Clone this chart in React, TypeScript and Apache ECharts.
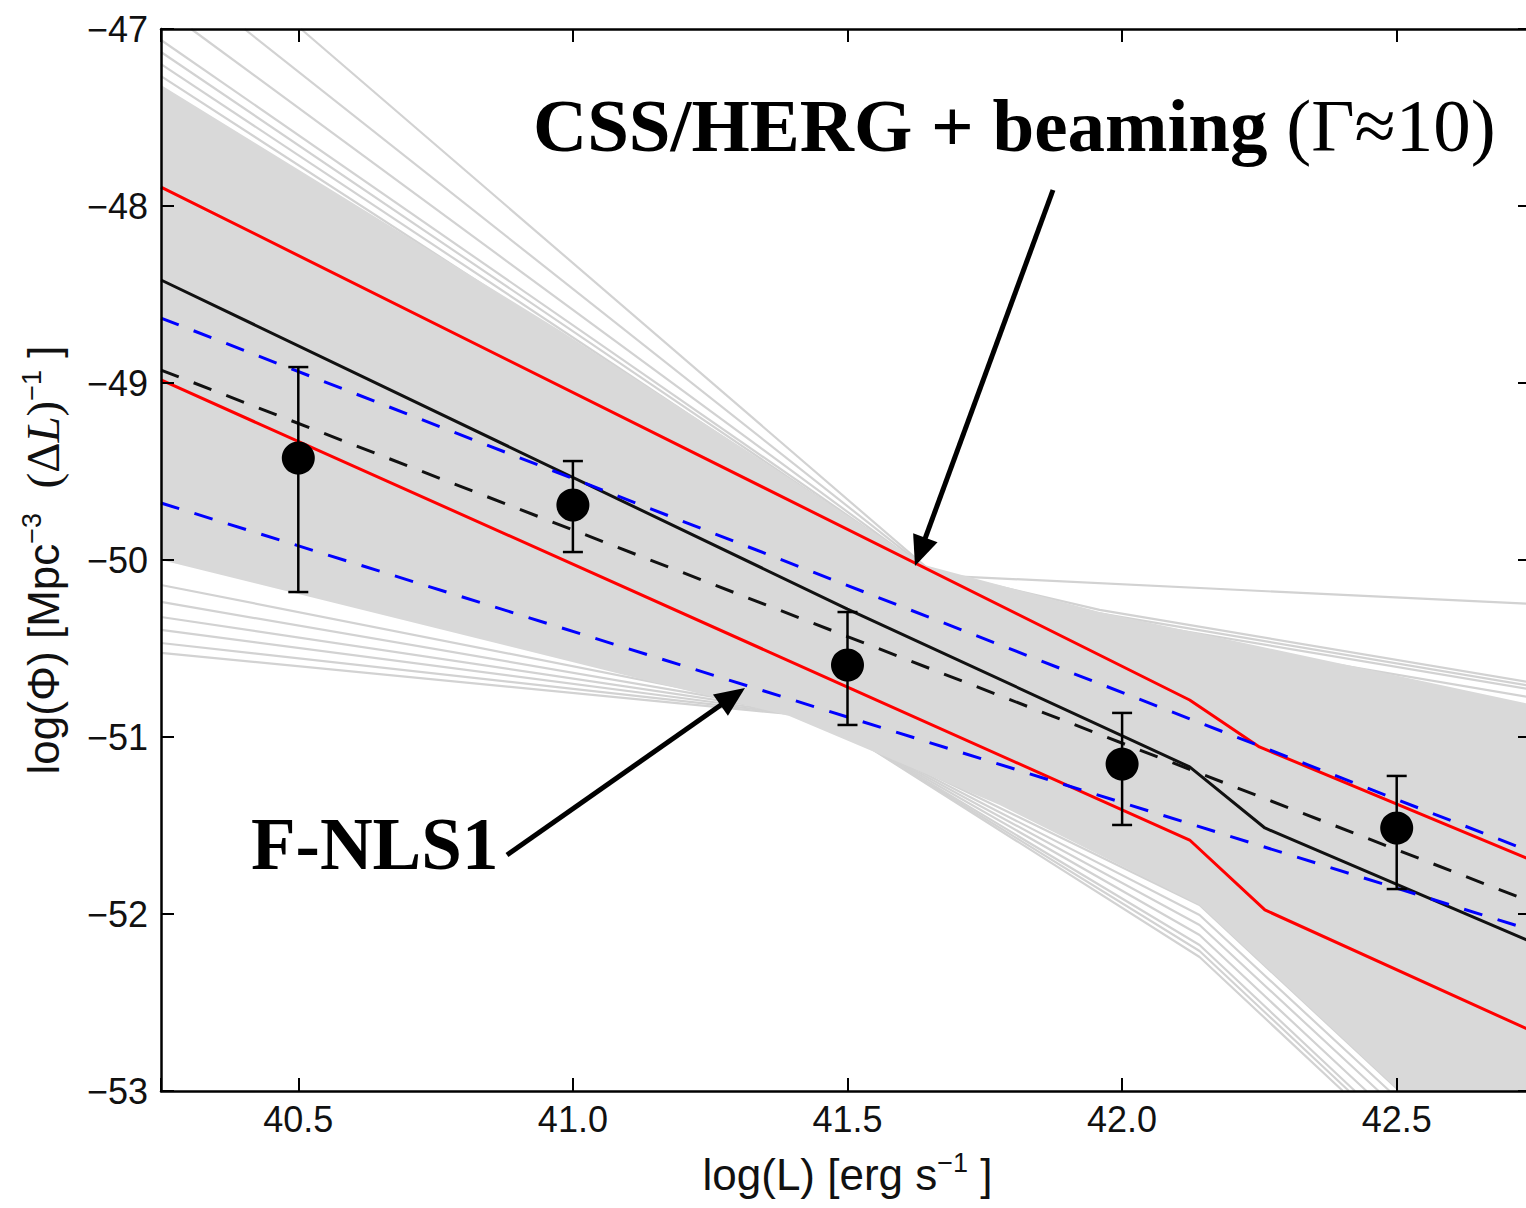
import React, { useEffect, useRef } from 'react';
import * as echarts from 'echarts';

// ---- axis ranges ----
const X_MIN = 40.25;
const X_MAX = 42.75;
const Y_MIN = -53;
const Y_MAX = -47;

// ---- data points with error bars ----
const pointsX = [40.5, 41.0, 41.5, 42.0, 42.5];
const pointsY = [-49.424, -49.689, -50.593, -51.153, -51.514];
const errLow = [-50.181, -49.955, -50.932, -51.497, -51.859];
const errHigh = [-48.91, -49.441, -50.294, -50.864, -51.22];

// ---- model curves (log L, log Phi) ----
const redUpper = [[40.25, -47.893], [42.123, -50.791], [42.25, -51.056], [42.75, -51.701]];
const redLower = [[40.25, -48.983], [41.5, -50.718], [42.123, -51.582], [42.26, -51.977], [42.75, -52.667]];
const blackSolid = [[40.25, -48.418], [41.5, -50.277], [42.123, -51.169], [42.26, -51.514], [42.75, -52.164]];
const blackDashed = [[40.25, -48.927], [42.75, -51.938]];
const blueUpper = [[40.25, -48.633], [42.75, -51.655]];
const blueLower = [[40.25, -49.678], [42.75, -52.096]];

// ---- grey spaghetti of posterior draws ----
const denseBand = [
  [40.25, -47.316], [40.975, -48.701], [41.64, -50.028], [41.959, -50.294], [42.75, -50.819],
  [42.75, -53], [42.505, -53], [42.141, -51.949], [41.777, -51.384], [41.394, -50.881], [40.25, -50.0],
];
// steep draws: the part above-left of the band and the part below-right of it
const steepUpper = [
  [[40.505, -47], [41.649, -50.056]],
  [[40.402, -47], [41.649, -50.062]],
  [[40.305, -47], [41.649, -50.068]],
  [[40.25, -47.062], [41.649, -50.068]],
  [[40.25, -47.13], [41.649, -50.073]],
  [[40.25, -47.198], [41.649, -50.079]],
  [[40.25, -47.266], [41.649, -50.079]],
];
const steepLower = [
  [[41.504, -50.989], [42.141, -52.243], [42.402, -53]],
  [[41.504, -50.989], [42.141, -52.209], [42.413, -53]],
  [[41.504, -50.989], [42.141, -52.175], [42.424, -53]],
  [[41.504, -50.989], [42.141, -52.119], [42.445, -53]],
  [[41.504, -50.989], [42.141, -52.062], [42.467, -53]],
  [[41.504, -50.989], [42.141, -52.006], [42.487, -53]],
  [[41.504, -50.989], [42.141, -51.949], [42.505, -53]],
];
const flatRightLines = [
  [[40.25, -49.915], [41.649, -50.085], [42.75, -50.249]],
  [[41.64, -50.05], [41.959, -50.282], [42.75, -50.695]],
  [[41.64, -50.05], [41.959, -50.302], [42.75, -50.714]],
  [[41.64, -50.05], [41.959, -50.322], [42.75, -50.734]],
  [[41.64, -50.06], [41.959, -50.362], [42.75, -50.78]],
];
const flatLeftLines = [
  [[40.25, -50.525], [41.394, -50.87], [42.75, -51.356]],
  [[40.25, -50.469], [41.394, -50.864], [42.75, -51.3]],
  [[40.25, -50.395], [41.394, -50.859], [42.75, -51.25]],
  [[40.25, -50.322], [41.394, -50.853], [42.75, -51.2]],
  [[40.25, -50.237], [41.394, -50.847], [42.75, -51.15]],
  [[40.25, -50.141], [41.394, -50.842], [42.75, -51.1]],
];

// ---- annotation texts ----
const labelTop = 'CSS/HERG + beaming ';
const labelTopRegular = '(Γ≈10)';
const labelBottom = 'F-NLS1';

const SANS = "'Liberation Sans', Arial, Helvetica, sans-serif";
const SERIF = "'Liberation Serif', 'Times New Roman', serif";

function arrow(tail: number[], tip: number[], headLen: number, headHalf: number, width: number) {
  const dx = tip[0] - tail[0];
  const dy = tip[1] - tail[1];
  const len = Math.sqrt(dx * dx + dy * dy);
  const ux = dx / len, uy = dy / len;
  const nx = -uy, ny = ux;
  const bx = tip[0] - ux * headLen, by = tip[1] - uy * headLen;
  return [
    {
      type: 'line',
      shape: { x1: tail[0], y1: tail[1], x2: bx + ux * 4, y2: by + uy * 4 },
      style: { stroke: '#000', lineWidth: width },
      z: 50,
    },
    {
      type: 'polygon',
      shape: { points: [tip, [bx + nx * headHalf, by + ny * headHalf], [bx - nx * headHalf, by - ny * headHalf]] },
      style: { fill: '#000' },
      z: 50,
    },
  ];
}

export default function App() {
  const ref = useRef<HTMLDivElement>(null);
  useEffect(() => {
    if (!ref.current) return;
    const chart = echarts.init(ref.current, undefined, { renderer: 'svg' });

    const greyLine = (d: number[][], i: number) => ({
      type: 'line',
      name: 'draw' + i,
      data: d,
      showSymbol: false,
      symbol: 'none',
      silent: true,
      lineStyle: { color: '#d2d2d2', width: 2.2 },
      z: 1,
    });
    const curve = (d: number[][], color: string, type: any) => ({
      type: 'line',
      data: d,
      showSymbol: false,
      symbol: 'none',
      silent: true,
      lineStyle: { color, width: 3, type },
      z: 3,
    });

    const axisCommon = {
      axisLine: { show: true, lineStyle: { color: '#000', width: 2.5 } },
      axisTick: { show: true, inside: true, length: 13, lineStyle: { color: '#000', width: 2 } },
      splitLine: { show: false },
      z: 10,
    };

    chart.setOption({
      animation: false,
      backgroundColor: '#fff',
      grid: { left: 161, top: 29, right: 6, bottom: 117, containLabel: false },
      xAxis: [
        {
          type: 'value',
          min: X_MIN,
          max: X_MAX,
          splitNumber: 5,
          position: 'bottom',
          ...axisCommon,
          axisLabel: {
            margin: 10,
            fontFamily: SANS,
            fontSize: 36,
            color: '#111',
            formatter: (v: number) => (Math.abs(v * 2 - Math.round(v * 2)) < 1e-6 ? v.toFixed(1) : ''),
          },
          name: '{a|log(L) [erg s}{s|−1}{a| ]}',
          nameLocation: 'middle',
          nameGap: 58,
          nameTextStyle: {
            rich: {
              a: { fontFamily: SANS, fontSize: 44, color: '#111', lineHeight: 50 },
              s: { fontFamily: SANS, fontSize: 27, color: '#111', verticalAlign: 'top', lineHeight: 27 },
            },
          },
        },
        {
          type: 'value',
          min: X_MIN,
          max: X_MAX,
          splitNumber: 5,
          position: 'top',
          ...axisCommon,
          axisLabel: { show: false },
        },
      ],
      yAxis: [
        {
          type: 'value',
          min: Y_MIN,
          max: Y_MAX,
          interval: 1,
          position: 'left',
          ...axisCommon,
          axisLabel: {
            margin: 13,
            fontFamily: SANS,
            fontSize: 36,
            color: '#111',
            formatter: (v: number) => (v < 0 ? '\u2212' + Math.abs(v) : String(v)),
          },
          name: '{a|log(Φ) [Mpc}{s|−3}{a|  }{m|(Δ}{i|L}{m|)}{s|−1}{a| ]}',
          nameLocation: 'middle',
          nameGap: 93,
          nameTextStyle: {
            rich: {
              a: { fontFamily: SANS, fontSize: 44, color: '#111', lineHeight: 50 },
              m: { fontFamily: SERIF, fontSize: 47, color: '#111', lineHeight: 50 },
              i: { fontFamily: SERIF, fontStyle: 'italic', fontSize: 47, color: '#111', lineHeight: 50 },
              s: { fontFamily: SANS, fontSize: 27, color: '#111', verticalAlign: 'top', lineHeight: 27 },
            },
          },
        },
        {
          type: 'value',
          min: Y_MIN,
          max: Y_MAX,
          interval: 1,
          position: 'right',
          ...axisCommon,
          axisTick: { show: true, inside: true, length: 16, lineStyle: { color: '#000', width: 2 } },
          axisLabel: { show: false },
        },
      ],
      series: [
        ...steepUpper.map((d, i) => greyLine(d, i)),
        ...steepLower.map((d, i) => greyLine(d, 10 + i)),
        ...flatRightLines.map((d, i) => greyLine(d, 20 + i)),
        ...flatLeftLines.map((d, i) => greyLine(d, 30 + i)),
        {
          type: 'custom',
          name: 'band',
          silent: true,
          clip: true,
          z: 2,
          data: [denseBand[0]],
          renderItem: (params: any, api: any) => ({
            type: 'polygon',
            shape: { points: denseBand.map((p) => api.coord(p)) },
            style: { fill: '#d9d9d9' },
          }),
        },
        curve(redUpper, '#ff0000', 'solid'),
        curve(redLower, '#ff0000', 'solid'),
        curve(blackDashed, '#111', [19, 16]),
        curve(blackSolid, '#111', 'solid'),
        curve(blueUpper, '#0000ff', [19, 16]),
        curve(blueLower, '#0000ff', [19, 16]),
        {
          type: 'custom',
          name: 'errors',
          silent: true,
          z: 5,
          data: pointsX.map((x, i) => [x, errLow[i], errHigh[i]]),
          encode: { x: 0, y: [1, 2] },
          renderItem: (params: any, api: any) => {
            const lo = api.coord([api.value(0), api.value(1)]);
            const hi = api.coord([api.value(0), api.value(2)]);
            const w = 10;
            const st = { stroke: '#000', lineWidth: 2.5 };
            return {
              type: 'group',
              children: [
                { type: 'line', shape: { x1: lo[0], y1: lo[1], x2: hi[0], y2: hi[1] }, style: st },
                { type: 'line', shape: { x1: lo[0] - w, y1: lo[1], x2: lo[0] + w, y2: lo[1] }, style: st },
                { type: 'line', shape: { x1: hi[0] - w, y1: hi[1], x2: hi[0] + w, y2: hi[1] }, style: st },
              ],
            };
          },
        },
        {
          type: 'scatter',
          name: 'points',
          silent: true,
          z: 6,
          symbol: 'circle',
          symbolSize: 33,
          itemStyle: { color: '#000', opacity: 1 },
          data: pointsX.map((x, i) => [x, pointsY[i]]),
        },
      ],
      graphic: [
        {
          type: 'text',
          x: 533,
          y: 125,
          z: 60,
          style: {
            text: '{b|' + labelTop + '}{r|' + labelTopRegular + '}',
            verticalAlign: 'middle',
            align: 'left',
            rich: {
              b: { fontFamily: SERIF, fontWeight: 'bold', fontSize: 75, fill: '#000' },
              r: { fontFamily: SERIF, fontWeight: 'normal', fontSize: 75, fill: '#000' },
            },
          },
        },
        {
          type: 'text',
          x: 251,
          y: 844,
          z: 60,
          style: {
            text: labelBottom,
            fontFamily: SERIF,
            fontWeight: 'bold',
            fontSize: 73,
            fill: '#000',
            verticalAlign: 'middle',
            align: 'left',
          },
        },
        ...arrow([1053, 190], [915, 566], 30, 13, 5),
        ...arrow([507, 855], [745, 688], 30, 13, 5),
      ],
    });

    return () => chart.dispose();
  }, []);

  return (
    <div style={{ position: 'fixed', left: 0, top: 0, width: 1526, height: 1208, overflow: 'hidden', background: '#fff' }}>
      <div ref={ref} style={{ width: 1540, height: 1208 }} />
    </div>
  );
}
